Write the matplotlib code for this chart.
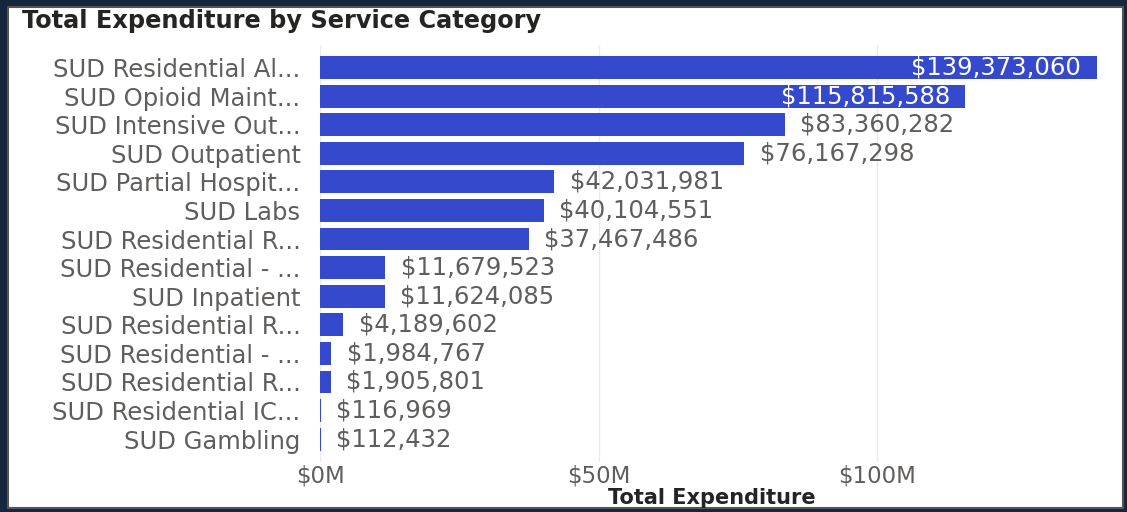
import matplotlib.pyplot as plt
from matplotlib.patches import Rectangle
from matplotlib.ticker import FuncFormatter

categories = ['SUD Residential Al...', 'SUD Opioid Maint...', 'SUD Intensive Out...',
              'SUD Outpatient', 'SUD Partial Hospit...', 'SUD Labs',
              'SUD Residential R...', 'SUD Residential - ...', 'SUD Inpatient',
              'SUD Residential R...', 'SUD Residential - ...', 'SUD Residential R...',
              'SUD Residential IC...', 'SUD Gambling']
expenditure = [139373060, 115815588, 83360282, 76167298, 42031981, 40104551,
               37467486, 11679523, 11624085, 4189602, 1984767, 1905801,
               116969, 112432]
x_ticks = [0, 50e6, 100e6]

plt.rcParams['font.family'] = ['DejaVu Sans']

fig = plt.figure(figsize=(11.27, 5.12), dpi=100)
# dark frame + white panel
fig.patches.append(Rectangle((0, 0), 1, 1, transform=fig.transFigure,
                             facecolor='#15263d', edgecolor='none', zorder=-3))
fig.patches.append(Rectangle((8 / 1127, 4 / 512), 1 - 12 / 1127, 1 - 11 / 512,
                             transform=fig.transFigure, facecolor='white',
                             edgecolor='#555555', linewidth=1.5, zorder=-2))

ax = fig.add_axes([320 / 1127, 50 / 512, 783 / 1127, 417 / 512])
ypos = range(len(categories))
ax.barh(ypos, expenditure, height=0.8, color='#3449cc', zorder=2)
ax.set_ylim(len(categories) - 1 + 0.8, -0.79)
ax.set_xlim(0, 140.5e6)

xmax = max(expenditure)
for y, v in zip(ypos, expenditure):
    txt = f'${v:,.0f}'
    if v > 0.8 * xmax:
        ax.text(v - 0.02 * xmax, y, txt, ha='right', va='center',
                color='white', fontsize=17.5)
    else:
        ax.text(v + 0.02 * xmax, y, txt, ha='left', va='center',
                color='#605e5c', fontsize=17.5)

ax.set_yticks(list(ypos))
ax.set_yticklabels(categories, fontsize=17.5, color='#605e5c')
ax.set_xticks(x_ticks)
ax.xaxis.set_major_formatter(FuncFormatter(lambda v, p: f'${v / 1e6:.0f}M'))
ax.tick_params(axis='x', labelsize=16.5, colors='#605e5c', length=0, pad=2)
ax.tick_params(axis='y', length=0, pad=14)
ax.grid(axis='x', color='#eaeaf2', linewidth=1, zorder=0)
for s in ax.spines.values():
    s.set_visible(False)
ax.set_xlabel('Total Expenditure', fontsize=15, fontweight='bold',
              color='#252423', labelpad=0)

fig.text(22 / 1127, 1 - 21 / 512, 'Total Expenditure by Service Category',
         fontsize=17.3, fontweight='bold', color='#252423', va='center', ha='left')

fig.savefig('out.png', dpi=100)
